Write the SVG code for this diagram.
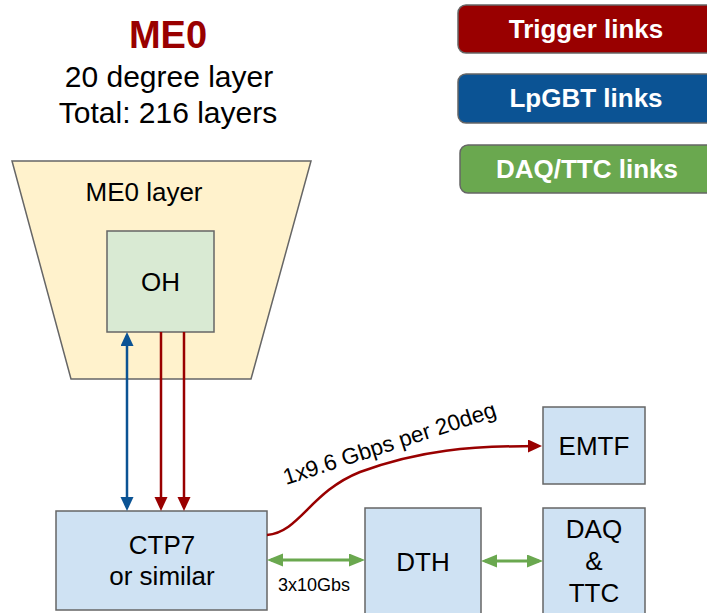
<svg xmlns="http://www.w3.org/2000/svg" width="707" height="613" viewBox="0 0 707 613">
<style>
text{font-family:"Liberation Sans",Arial,sans-serif;fill:#000;text-anchor:middle}
.box{fill:#cfe2f3;stroke:#666;stroke-width:1.5}
.leg{stroke:#666;stroke-width:1.5}
.legt{font-weight:bold;font-size:26px;fill:#fff}
.lbl{font-size:26px}
.red{stroke:#990000;stroke-width:2.5;fill:none}
.blue{stroke:#0b5394;stroke-width:2.5;fill:none}
.green{stroke:#6aa84f;stroke-width:3;fill:none}
</style>
<defs>
<marker id="ar" markerUnits="userSpaceOnUse" markerWidth="16" markerHeight="14" refX="10" refY="6.5" orient="auto-start-reverse"><path d="M0,0 L14,6.5 L0,13 z" fill="#990000"/></marker>
<marker id="ab" markerUnits="userSpaceOnUse" markerWidth="16" markerHeight="14" refX="10" refY="6.5" orient="auto-start-reverse"><path d="M0,0 L14,6.5 L0,13 z" fill="#0b5394"/></marker>
<marker id="ag" markerUnits="userSpaceOnUse" markerWidth="18" markerHeight="14" refX="12" refY="6.5" orient="auto-start-reverse"><path d="M0,0 L16,6.5 L0,13 z" fill="#6aa84f"/></marker>
</defs>

<g id="title">
<text x="168" y="48" style="font-weight:bold;font-size:38px;fill:#990000">ME0</text>
<text x="169" y="87" style="font-size:30px">20 degree layer</text>
<text x="168" y="123" style="font-size:30px">Total: 216 layers</text>
</g>

<g id="legend-trigger">
<rect class="leg" x="458" y="5" width="270" height="48" rx="8" fill="#990000"/>
<text class="legt" x="586" y="38">Trigger links</text>
</g>
<g id="legend-lpgbt">
<rect class="leg" x="458" y="74" width="270" height="49" rx="8" fill="#0b5394"/>
<text class="legt" x="586" y="107">LpGBT links</text>
</g>
<g id="legend-daq">
<rect class="leg" x="460" y="145" width="270" height="48" rx="8" fill="#6aa84f"/>
<text class="legt" x="587" y="178">DAQ/TTC links</text>
</g>

<g id="me0-layer">
<polygon points="12,161 311,161 251,379 71,379" fill="#fff2cc" stroke="#666" stroke-width="1.5"/>
<text class="lbl" x="144" y="201">ME0 layer</text>
</g>

<g id="oh">
<rect x="107" y="231" width="107" height="101" fill="#d9ead3" stroke="#666" stroke-width="1.5"/>
<text class="lbl" x="160.5" y="291">OH</text>
</g>

<g id="ctp7">
<rect class="box" x="56" y="511" width="211" height="99"/>
<text class="lbl" x="162" y="554">CTP7</text>
<text class="lbl" x="162" y="585">or similar</text>
</g>

<g id="dth">
<rect class="box" x="365" y="508" width="116" height="115"/>
<text class="lbl" x="423" y="571">DTH</text>
</g>

<g id="emtf">
<rect class="box" x="543" y="407" width="102" height="77"/>
<text class="lbl" x="594" y="455">EMTF</text>
</g>

<g id="daq-ttc">
<rect class="box" x="543" y="508" width="102" height="115"/>
<text class="lbl" x="594" y="538">DAQ</text>
<text class="lbl" x="594" y="570">&amp;</text>
<text class="lbl" x="594" y="602">TTC</text>
</g>

<g id="connectors">
<line class="blue" x1="127" y1="336" x2="127" y2="507" marker-start="url(#ab)" marker-end="url(#ab)"/>
<line class="red" x1="161" y1="332" x2="161" y2="507" marker-end="url(#ar)"/>
<line class="red" x1="184" y1="332" x2="184" y2="507" marker-end="url(#ar)"/>
<path class="red" d="M267,535 C300,532 310,492 360,472 C420,450 470,446 538,446" marker-end="url(#ar)"/>
<text x="286" y="485" transform="rotate(-18 286 485)" style="font-size:22.5px;text-anchor:start">1x9.6 Gbps per 20deg</text>
<line class="green" x1="271" y1="560" x2="361" y2="560" marker-start="url(#ag)" marker-end="url(#ag)"/>
<text x="314" y="591" style="font-size:18px">3x10Gbs</text>
<line class="green" x1="485" y1="561" x2="539" y2="561" marker-start="url(#ag)" marker-end="url(#ag)"/>
</g>
</svg>
